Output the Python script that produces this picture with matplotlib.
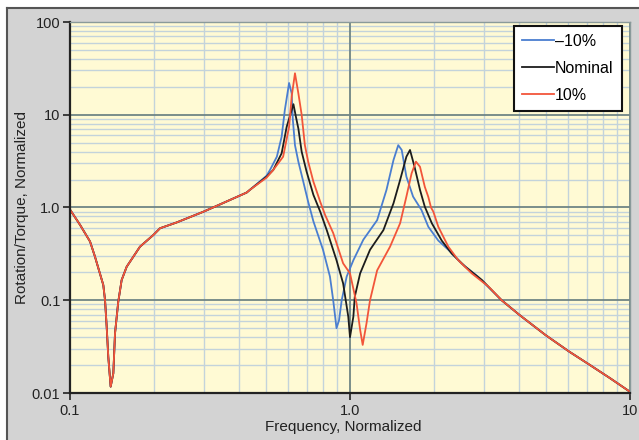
import matplotlib
matplotlib.use("Agg")
import matplotlib.pyplot as plt
from matplotlib.lines import Line2D
from matplotlib.patches import Rectangle
from matplotlib.ticker import FixedLocator, LogLocator, NullFormatter


OUTPUT_FILENAME = "out.png"

# Shared low-frequency part (the three curves lie on top of each other here)
freq_low = [0.100, 0.1086, 0.1179, 0.1228, 0.1315, 0.1334, 0.1352, 0.1370,
            0.1397, 0.1428, 0.1448, 0.1487, 0.1529, 0.1594, 0.1778, 0.1984,
            0.2096, 0.2404, 0.2994, 0.3434, 0.4276, 0.4390]
mag_low = [0.95, 0.65, 0.43, 0.295, 0.146, 0.10, 0.052, 0.0246,
           0.0117, 0.0163, 0.044, 0.096, 0.165, 0.23, 0.378, 0.505,
           0.597, 0.69, 0.90, 1.08, 1.45, 1.55]

# Shared high-frequency tail
freq_tail = [3.48, 4.04, 5.0, 6.07, 7.2, 8.5, 10.0]
mag_tail = [0.10, 0.069, 0.042, 0.0279, 0.020, 0.0144, 0.0103]

# -10 % case
freq_minus = [0.5036, 0.518, 0.548, 0.570, 0.585, 0.606, 0.619, 0.625,
              0.636, 0.654, 0.681, 0.709, 0.740, 0.801, 0.848, 0.871,
              0.895, 0.914, 0.934, 0.973, 1.028, 1.116, 1.25, 1.35,
              1.43, 1.487, 1.53, 1.59, 1.68, 1.80, 1.904, 2.067,
              2.245, 2.50, 2.86]
mag_minus = [2.2, 2.54, 3.53, 5.8, 11.2, 22.0, 17.0, 8.8,
             4.7, 3.12, 1.9, 1.15, 0.71, 0.35, 0.18, 0.10,
             0.05, 0.061, 0.10, 0.18, 0.27, 0.45, 0.73, 1.55,
             3.25, 4.7, 4.17, 2.15, 1.31, 0.94, 0.62, 0.44,
             0.35, 0.25, 0.18]

# Nominal case
freq_nominal = [0.5036, 0.532, 0.570, 0.594, 0.628, 0.641, 0.654, 0.672,
                0.700, 0.740, 0.783, 0.826, 0.895, 0.945, 0.986, 1.0,
                1.028, 1.04, 1.087, 1.179, 1.316, 1.43, 1.51, 1.59,
                1.638, 1.70, 1.778, 1.85, 1.96, 2.126, 2.31, 2.58, 2.96]
mag_nominal = [2.15, 2.54, 3.84, 7.4, 13.0, 9.5, 7.1, 4.0,
               2.43, 1.37, 0.90, 0.57, 0.27, 0.152, 0.0665, 0.040,
               0.0665, 0.109, 0.195, 0.35, 0.57, 1.11, 1.98, 3.53,
               4.17, 2.75, 1.55, 1.02, 0.676, 0.44, 0.318, 0.23, 0.165]

# +10 % case
freq_plus = [0.5036, 0.532, 0.577, 0.606, 0.619, 0.636, 0.654, 0.672,
             0.690, 0.709, 0.740, 0.783, 0.815, 0.871, 0.945, 1.0,
             1.055, 1.087, 1.11, 1.145, 1.179, 1.25, 1.39, 1.51,
             1.59, 1.66, 1.72, 1.778, 1.85, 1.904, 1.947, 1.985,
             2.067, 2.245, 2.437, 2.72, 3.118]
mag_plus = [2.1, 2.54, 3.53, 7.4, 15.7, 28.0, 17.0, 10.0,
            4.7, 3.12, 1.9, 1.15, 0.83, 0.53, 0.25, 0.195,
            0.093, 0.048, 0.033, 0.056, 0.10, 0.21, 0.378, 0.676,
            1.31, 2.34, 3.12, 2.75, 1.67, 1.3, 1.0, 0.9,
            0.62, 0.378, 0.27, 0.195, 0.141]

series_labels = ["\u201310%", "Nominal", "10%"]
series_colors = ["#4a7ed0", "#1c1c1c", "#f2553a"]

x_ticks = [0.1, 1.0, 10.0]
x_tick_labels = ["0.1", "1.0", "10"]
y_ticks = [0.01, 0.1, 1.0, 10.0, 100.0]
y_tick_labels = ["0.01", "0.1", "1.0", "10", "100"]

MAJOR_GRID_COLOR = "#6f8585"
MINOR_GRID_COLOR = "#c3d3db"


def plot():
    """
    Draw the normalized rotation/torque response for the three cases.
    """
    plt.rcParams['font.family'] = ['Liberation Sans', 'DejaVu Sans']

    fig = plt.figure(figsize=(6.39, 4.40), dpi=100, facecolor="white")

    # grey panel behind the plot, dark edge on top and left
    top = 1 - 8 / 440
    left = 7 / 639
    fig.patches.append(Rectangle((left, 0), 1, top,
                                 transform=fig.transFigure,
                                 facecolor="#d3d3d3", edgecolor="none",
                                 zorder=-10))
    fig.lines.append(Line2D([left, 1], [top, top],
                            transform=fig.transFigure, color="#555555",
                            linewidth=1.5, zorder=-5))
    fig.lines.append(Line2D([left, left], [0, top],
                            transform=fig.transFigure, color="#555555",
                            linewidth=1.5, zorder=-5))

    ax = fig.add_axes([70 / 639, 47 / 440, 560 / 639, 371 / 440])
    ax.set_facecolor("#fffad4")
    ax.set_xscale("log")
    ax.set_yscale("log")
    ax.set_xlim(0.1, 10)
    ax.set_ylim(0.01, 100)

    # minor grid from the tick machinery, major lines drawn on top of it
    ax.xaxis.set_minor_locator(LogLocator(base=10, subs=range(2, 10)))
    ax.yaxis.set_minor_locator(LogLocator(base=10, subs=range(2, 10)))
    ax.xaxis.set_minor_formatter(NullFormatter())
    ax.yaxis.set_minor_formatter(NullFormatter())
    ax.grid(True, which="minor", color=MINOR_GRID_COLOR, linewidth=1.0)
    ax.set_axisbelow(True)
    for x in x_ticks:
        ax.axvline(x, color=MAJOR_GRID_COLOR, linewidth=1.3, zorder=0.8)
    for y in y_ticks:
        ax.axhline(y, color=MAJOR_GRID_COLOR, linewidth=1.3, zorder=0.8)

    ax.xaxis.set_major_locator(FixedLocator(x_ticks))
    ax.yaxis.set_major_locator(FixedLocator(y_ticks))
    ax.set_xticklabels(x_tick_labels)
    ax.set_yticklabels(y_tick_labels)
    ax.tick_params(which="minor", length=0)
    ax.tick_params(which="major", length=5, width=1.2, color="#222222",
                   labelsize=10.5, labelcolor="#222222")
    ax.tick_params(axis="x", pad=3)
    ax.tick_params(axis="y", pad=2)

    for side in ["left", "bottom"]:
        ax.spines[side].set_color("#222222")
        ax.spines[side].set_linewidth(1.6)
    for side in ["top", "right"]:
        ax.spines[side].set_color("#8a9a9a")
        ax.spines[side].set_linewidth(1.0)

    curves = [
        (freq_minus, mag_minus),
        (freq_nominal, mag_nominal),
        (freq_plus, mag_plus),
    ]
    for (freq, mag), label, color in zip(curves, series_labels, series_colors):
        ax.plot(freq_low + freq + freq_tail, mag_low + mag + mag_tail,
                color=color, linewidth=1.3, label=label, zorder=2)

    ax.set_xlabel("Frequency, Normalized", fontsize=11, color="#222222")
    ax.xaxis.set_label_coords(0.4875, -0.072)
    ax.set_ylabel("Rotation/Torque, Normalized", fontsize=11,
                  color="#222222", labelpad=2)

    legend = ax.legend(loc="upper right", bbox_to_anchor=(0.985, 0.99),
                       fontsize=11.5, frameon=True, fancybox=False,
                       handlelength=2.0, handletextpad=0.05,
                       labelspacing=0.75, borderpad=0.5, borderaxespad=0)
    legend.get_frame().set_edgecolor("#111111")
    legend.get_frame().set_linewidth(1.5)
    legend.get_frame().set_facecolor("white")
    legend.get_frame().set_alpha(1.0)

    fig.savefig(OUTPUT_FILENAME, dpi=100, facecolor=fig.get_facecolor())
    plt.close(fig)


def main():
    plot()


if __name__ == "__main__":
    main()
